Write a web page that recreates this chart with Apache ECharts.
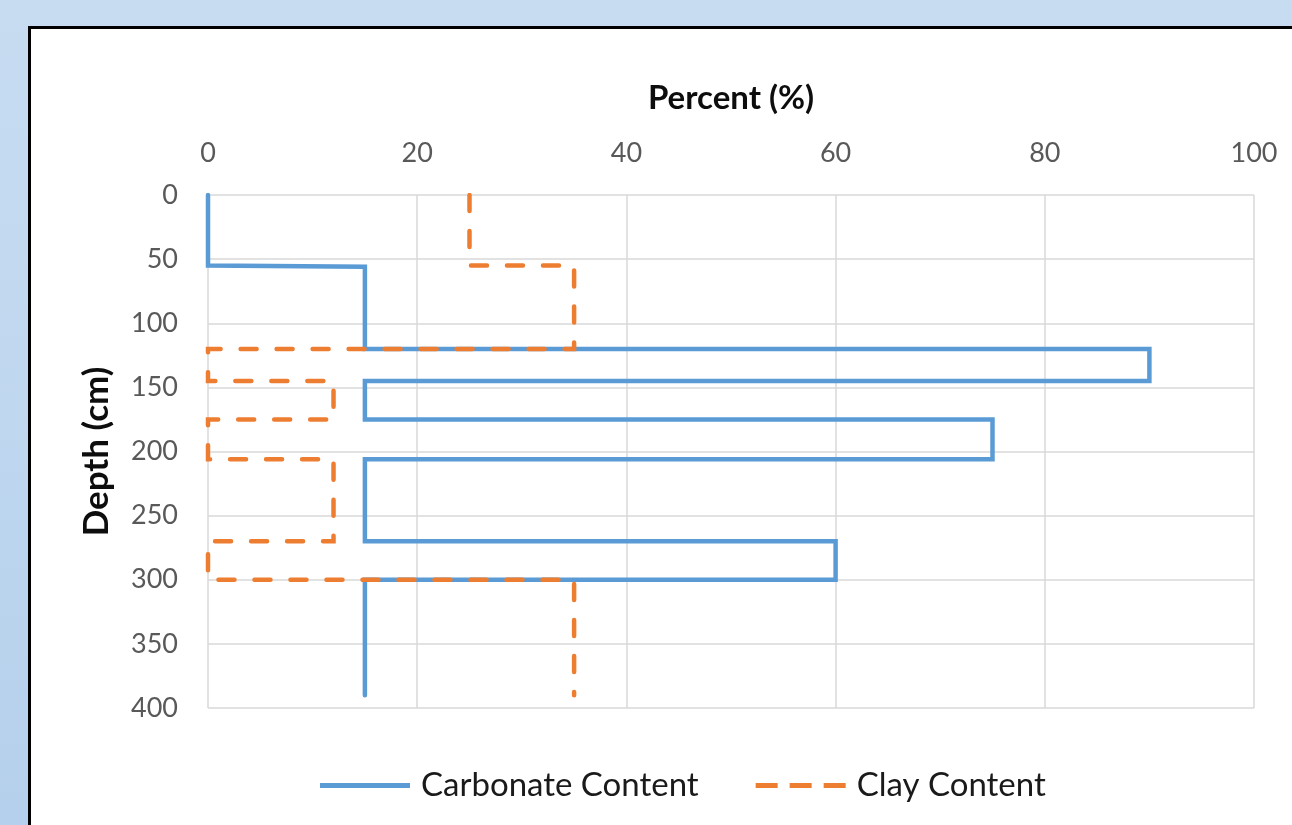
<!DOCTYPE html>
<html>
<head>
<meta charset="utf-8">
<title>Carbonate and Clay Content by Depth</title>
<script src="https://cdn.jsdelivr.net/npm/echarts@6/dist/echarts.min.js"></script>
<style>
  html, body { margin: 0; padding: 0; }
  body {
    width: 1292px; height: 825px; overflow: hidden; position: relative;
    background: linear-gradient(180deg, #c7dcf1 0%, #bfd7ef 50%, #b5d0ec 100%);
  }
  #panel {
    position: absolute; left: 28px; top: 26px; width: 1300px; height: 840px;
    background: #ffffff; border: 3px solid #000000; box-sizing: border-box;
  }
  #chart { position: absolute; left: 0; top: 0; width: 1292px; height: 825px; }
</style>
</head>
<body>
<div id="panel"></div>
<div id="chart"></div>
<script>
// Depth profile (cm) of each layer boundary with its percentage value
const carbonatePercent = [0, 0, 15, 15, 90, 90, 15, 15, 75, 75, 15, 15, 60, 60, 15, 15];
const carbonateDepth   = [0, 55, 56, 120, 120, 145, 145, 175, 175, 206, 206, 270, 270, 300, 300, 390];

const clayPercent = [25, 25, 35, 35, 0, 0, 12, 12, 0, 0, 12, 12, 0, 0, 35, 35];
const clayDepth   = [0, 55, 55, 120, 120, 145, 145, 175, 175, 206, 206, 270, 270, 300, 300, 390];

const percentTicks = [0, 20, 40, 60, 80, 100];
const depthTicks = [0, 50, 100, 150, 200, 250, 300, 350, 400];

const seriesNames = ['Carbonate Content', 'Clay Content'];

const pairs = (xs, ys) => xs.map((x, i) => [x, ys[i]]);

const FONT = 'Lato, "Open Sans", sans-serif';
const BLUE = '#5b9bd5';
const ORANGE = '#ed7d31';

// Legend keys (90 x 5): one solid stroke, and three separate dashes
const solidKey = 'path://M0,0 H90 V5 H0 Z';
const dashKey = 'path://M0,0 H22 V5 H0 Z M34,0 H56 V5 H34 Z M68,0 H90 V5 H68 Z';

const chart = echarts.init(document.getElementById('chart'), null, { renderer: 'canvas' });

chart.setOption({
  backgroundColor: 'transparent',
  animation: false,
  grid: { left: 208, right: 38, top: 195, bottom: 117, containLabel: false },
  xAxis: {
    type: 'value',
    position: 'top',
    min: percentTicks[0],
    max: percentTicks[percentTicks.length - 1],
    interval: percentTicks[1] - percentTicks[0],
    name: 'Percent (%)',
    nameLocation: 'middle',
    nameGap: 80,
    nameTextStyle: { fontFamily: FONT, fontWeight: 'bold', fontSize: 33, color: '#0d0d0d' },
    axisLine: { show: false },
    axisTick: { show: false },
    axisLabel: { fontFamily: FONT, fontSize: 27, color: '#595959', margin: 28 },
    splitLine: { show: true, lineStyle: { color: '#d9d9d9', width: 1.5 } }
  },
  yAxis: {
    type: 'value',
    inverse: true,
    min: depthTicks[0],
    max: depthTicks[depthTicks.length - 1],
    interval: depthTicks[1] - depthTicks[0],
    name: 'Depth (cm)',
    nameLocation: 'middle',
    nameGap: 94,
    nameRotate: 90,
    nameTextStyle: { fontFamily: FONT, fontWeight: 'bold', fontSize: 35, color: '#0d0d0d' },
    axisLine: { show: false },
    axisTick: { show: false },
    axisLabel: { fontFamily: FONT, fontSize: 27, color: '#595959', margin: 30 },
    splitLine: { show: true, lineStyle: { color: '#d9d9d9', width: 1.5 } }
  },
  legend: {
    left: 320,
    top: 769,
    padding: 0,
    itemWidth: 90,
    itemHeight: 5,
    itemGap: 57,
    symbolKeepAspect: false,
    textStyle: { fontFamily: FONT, fontSize: 33, color: '#1a1a1a', padding: [0, 0, 0, 6] },
    data: [
      { name: seriesNames[0], icon: solidKey, itemStyle: { color: BLUE } },
      { name: seriesNames[1], icon: dashKey, itemStyle: { color: ORANGE } }
    ]
  },
  series: [
    {
      name: seriesNames[0],
      type: 'line',
      data: pairs(carbonatePercent, carbonateDepth),
      symbol: 'none',
      smooth: false,
      lineStyle: { color: BLUE, width: 4.5, cap: 'round', join: 'miter' },
      itemStyle: { color: BLUE },
      z: 2
    },
    {
      name: seriesNames[1],
      type: 'line',
      data: pairs(clayPercent, clayDepth),
      symbol: 'none',
      smooth: false,
      lineStyle: { color: ORANGE, width: 4.5, type: [16, 20], cap: 'round', join: 'miter' },
      itemStyle: { color: ORANGE },
      z: 3
    }
  ]
});
</script>
</body>
</html>
